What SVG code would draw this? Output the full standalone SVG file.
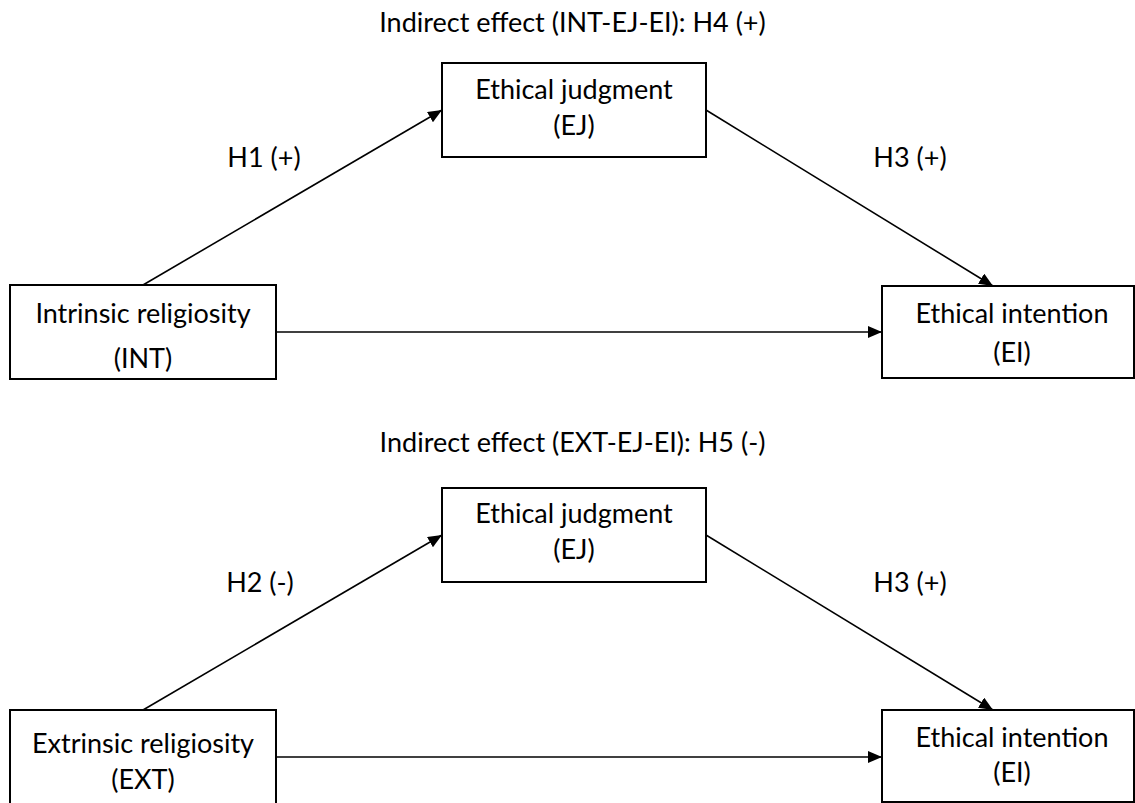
<svg xmlns="http://www.w3.org/2000/svg" width="1135" height="803" viewBox="0 0 1135 803">
<defs>
<marker id="arr" markerUnits="userSpaceOnUse" markerWidth="14" markerHeight="12" refX="14" refY="6" orient="auto">
<path d="M0,0 L14,6 L0,12 z" fill="#000"/>
</marker>
<style>
.box{fill:#fff;stroke:#000;stroke-width:2}
.t{font-family:Lato,"Open Sans","Liberation Sans",sans-serif;font-size:27px;fill:#000;text-anchor:middle}
.c{fill:none;stroke:#000;stroke-width:1.6;marker-end:url(#arr)}
</style>
</defs>
<rect width="1135" height="803" fill="#fff"/>
<g id="connectors">
<path class="c" d="M143,285 L442,110"/>
<path class="c" d="M706,110 L993,286"/>
<path class="c" d="M276,332 L882,332"/>
<path class="c" d="M143,710 L442,535"/>
<path class="c" d="M706,535 L993,710"/>
<path class="c" d="M276,757 L882,757"/>
</g>
<g id="labels">
<text class="t" x="572.5" y="32">Indirect effect (INT-EJ-EI): H4 (+)</text>
<text class="t" x="264" y="167">H1 (+)</text>
<text class="t" x="910" y="167">H3 (+)</text>
<text class="t" x="572.5" y="452">Indirect effect (EXT-EJ-EI): H5 (-)</text>
<text class="t" x="260" y="592">H2 (-)</text>
<text class="t" x="910" y="592">H3 (+)</text>
</g>
<g id="int">
<rect class="box" x="10" y="285" width="266" height="94"/>
<text class="t" x="143" y="323">Intrinsic religiosity</text>
<text class="t" x="143" y="368">(INT)</text>
</g>
<g id="ej1">
<rect class="box" x="442" y="63" width="264" height="94"/>
<text class="t" x="574" y="99">Ethical judgment</text>
<text class="t" x="574" y="135">(EJ)</text>
</g>
<g id="ei1">
<rect class="box" x="882" y="286" width="252" height="92"/>
<text class="t" x="1012" y="323">Ethical intention</text>
<text class="t" x="1012" y="362">(EI)</text>
</g>
<g id="ext">
<rect class="box" x="10" y="710" width="266" height="100"/>
<text class="t" x="143" y="753">Extrinsic religiosity</text>
<text class="t" x="143" y="789">(EXT)</text>
</g>
<g id="ej2">
<rect class="box" x="442" y="488" width="264" height="94"/>
<text class="t" x="574" y="523">Ethical judgment</text>
<text class="t" x="574" y="559">(EJ)</text>
</g>
<g id="ei2">
<rect class="box" x="882" y="710" width="252" height="92"/>
<text class="t" x="1012" y="747">Ethical intention</text>
<text class="t" x="1012" y="782">(EI)</text>
</g>
</svg>
